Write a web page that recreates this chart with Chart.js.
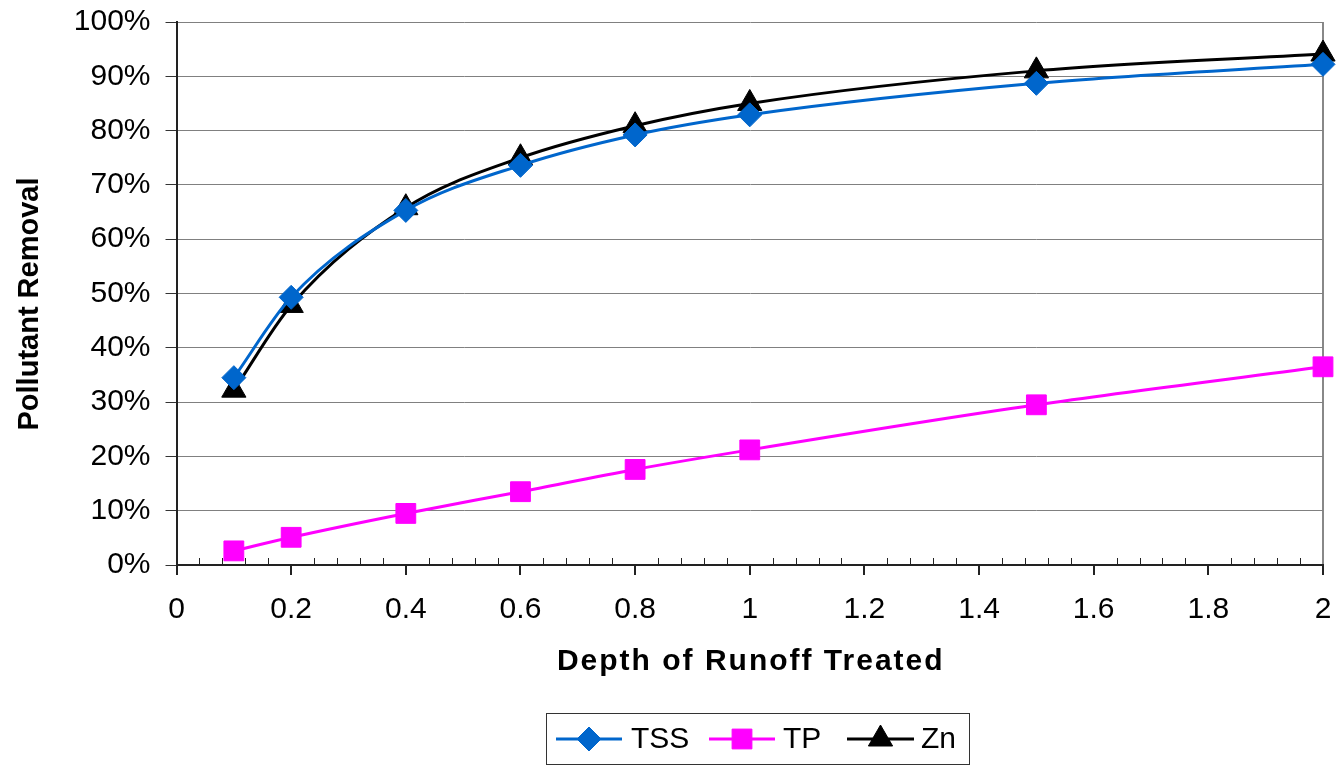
<!DOCTYPE html>
<html>
<head>
<meta charset="utf-8">
<script src="https://cdn.jsdelivr.net/npm/chart.js@4.4.1/dist/chart.umd.min.js"></script>
<style>
  html, body { margin: 0; padding: 0; background: #fff; }
  #wrap { width: 1344px; height: 768px; }
</style>
</head>
<body>
<div id="wrap"><canvas id="chart" width="1344" height="768"></canvas></div>
<script>
// Depth of runoff treated (x) and removal percentages per pollutant
const depths = [0.1, 0.2, 0.4, 0.6, 0.8, 1.0, 1.5, 2.0];
const tssValues = [34.5, 49.3, 65.3, 73.6, 79.2, 82.9, 88.7, 92.2];
const tpValues = [2.6, 5.1, 9.5, 13.5, 17.6, 21.2, 29.5, 36.5];
const znValues = [32.2, 47.8, 65.8, 75.0, 80.9, 85.0, 91.0, 94.1];

const seriesNames = ['TSS', 'TP', 'Zn'];
const xTitle = 'Depth of Runoff Treated';
const yTitle = 'Pollutant Removal';
const FONT = '"Liberation Sans", Arial, sans-serif';

const toPoints = vals => depths.map((d, i) => ({ x: d, y: vals[i] }));

// Minor tick marks along the x axis and both axis titles
const axisExtras = {
    id: 'axisExtras',
    afterDraw(chart) {
        const { ctx, chartArea, scales } = chart;
        const x = scales.x;
        ctx.save();
        ctx.strokeStyle = '#222';
        ctx.lineWidth = 1;
        for (let i = 0; i <= 50; i++) {
            if (i % 5 === 0) continue;
            const px = Math.round(x.getPixelForValue(i * 0.04)) + 0.5;
            ctx.beginPath();
            ctx.moveTo(px, chartArea.bottom - 7);
            ctx.lineTo(px, chartArea.bottom);
            ctx.stroke();
        }

        // Chart.js titles have no letter spacing or offset, so they are drawn here
        ctx.fillStyle = '#000';
        ctx.textAlign = 'center';
        ctx.textBaseline = 'middle';
        ctx.font = 'bold 30px ' + FONT;
        ctx.letterSpacing = '2px';
        ctx.fillText(xTitle, (chartArea.left + chartArea.right) / 2 + 1, 662);

        ctx.letterSpacing = '0px';
        ctx.font = 'bold 29px ' + FONT;
        ctx.translate(30, 304);
        ctx.rotate(-Math.PI / 2);
        ctx.fillText(yTitle, 0, 0);
        ctx.restore();
    }
};

// Boxed legend at the bottom, each entry shows the line with its marker
const boxLegend = {
    id: 'boxLegend',
    afterDraw(chart) {
        const { ctx } = chart;
        const box = { left: 546, top: 713, width: 423, height: 51 };
        ctx.save();
        ctx.fillStyle = '#fff';
        ctx.fillRect(box.left, box.top, box.width, box.height);
        ctx.strokeStyle = '#333';
        ctx.lineWidth = 1;
        ctx.strokeRect(box.left + 0.5, box.top + 0.5, box.width, box.height);

        const cy = box.top + 26;
        const entries = [
            { lineFrom: 556, lineTo: 622, textX: 631 },
            { lineFrom: 709, lineTo: 775, textX: 783 },
            { lineFrom: 847, lineTo: 914, textX: 921 }
        ];
        ctx.font = '30px ' + FONT;
        ctx.textBaseline = 'middle';
        chart.data.datasets.forEach((ds, i) => {
            const e = entries[i];
            ctx.strokeStyle = ds.borderColor;
            ctx.lineWidth = 3;
            ctx.beginPath();
            ctx.moveTo(e.lineFrom, cy);
            ctx.lineTo(e.lineTo, cy);
            ctx.stroke();
            ctx.fillStyle = ds.pointBackgroundColor;
            ctx.strokeStyle = ds.pointBorderColor;
            ctx.lineWidth = 1;
            Chart.helpers.drawPoint(ctx, {
                pointStyle: ds.pointStyle,
                rotation: 0,
                radius: ds.pointRadius,
                borderWidth: 1
            }, (e.lineFrom + e.lineTo) / 2, cy);
            ctx.fillStyle = '#000';
            ctx.fillText(ds.label, e.textX, cy + 1);
        });
        ctx.restore();
    }
};

function makeDataset(label, vals, color, style, radius) {
    return {
        label: label,
        data: toPoints(vals),
        borderColor: color,
        backgroundColor: color,
        borderWidth: 3,
        pointStyle: style,
        pointRadius: radius,
        pointBorderWidth: 1,
        pointBackgroundColor: color,
        pointBorderColor: color,
        cubicInterpolationMode: 'monotone',
        clip: false
    };
}

const ctx = document.getElementById('chart').getContext('2d');
const chart = new Chart(ctx, {
    type: 'line',
    data: {
        datasets: [
            makeDataset(seriesNames[0], tssValues, '#0066CC', 'rectRot', 12),
            makeDataset(seriesNames[1], tpValues, '#FF00FF', 'rect', 14),
            makeDataset(seriesNames[2], znValues, '#000000', 'triangle', 14)
        ]
    },
    options: {
        responsive: false,
        animation: false,
        layout: { padding: { top: 22, right: 21, bottom: 76, left: 10 } },
        plugins: {
            legend: { display: false },
            tooltip: { enabled: false }
        },
        scales: {
            x: {
                type: 'linear',
                min: 0,
                max: 2,
                afterFit: s => { s.paddingRight = 0; },
                ticks: {
                    stepSize: 0.2,
                    color: '#000',
                    font: { family: FONT, size: 30 },
                    padding: 17,
                    callback: v => Number(v.toFixed(1)).toString()
                },
                grid: {
                    color: c => (c.tick && c.tick.value === 2 ? '#888' : 'rgba(0,0,0,0)'),
                    lineWidth: 2,
                    tickColor: '#222',
                    tickLength: 10
                },
                border: { color: '#222', width: 2 },
                title: {
                    display: true,
                    text: xTitle,
                    color: 'rgba(0,0,0,0)',
                    font: { family: FONT, size: 30, weight: 'bold' },
                    padding: { top: 7 }
                }
            },
            y: {
                min: 0,
                max: 100,
                afterFit: s => { s.paddingTop = 0; },
                ticks: {
                    stepSize: 10,
                    color: '#000',
                    font: { family: FONT, size: 30, lineHeight: 1 },
                    padding: 15,
                    callback: v => v + '%'
                },
                grid: {
                    color: '#808080',
                    lineWidth: 1,
                    tickColor: '#333',
                    tickLength: 11
                },
                border: { color: '#222', width: 2 },
                title: {
                    display: true,
                    text: yTitle,
                    color: 'rgba(0,0,0,0)',
                    font: { family: FONT, size: 29, weight: 'bold' },
                    padding: { bottom: 10 }
                }
            }
        }
    },
    plugins: [axisExtras, boxLegend]
});
</script>
</body>
</html>
